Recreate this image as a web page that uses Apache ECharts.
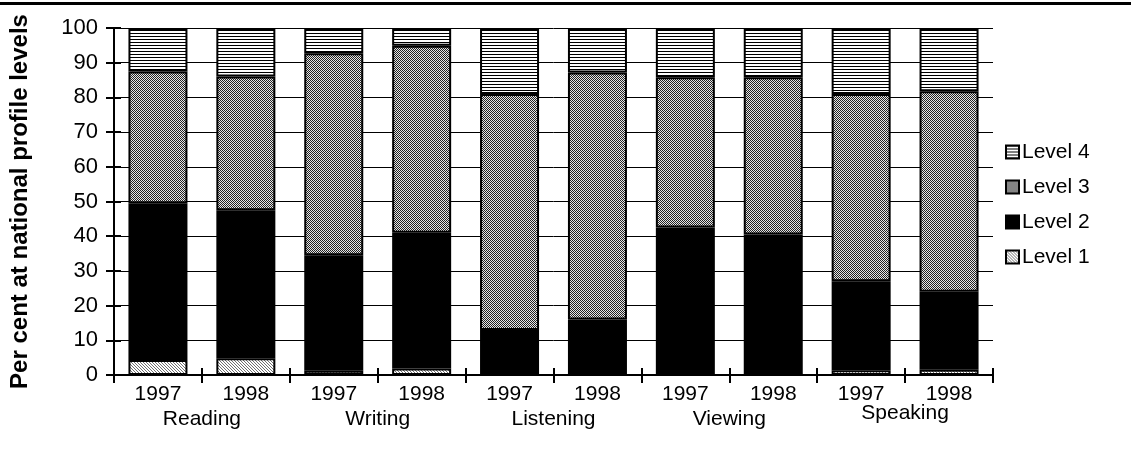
<!DOCTYPE html>
<html>
<head>
<meta charset="utf-8">
<script src="https://cdn.jsdelivr.net/npm/echarts@6/dist/echarts.min.js"></script>
<style>
html,body{margin:0;padding:0;background:#fff;}
#chart{width:1131px;height:466px;}
</style>
</head>
<body>
<div id="chart"></div>
<script>
// ---- data ----
const years = ['1997','1998','1997','1998','1997','1998','1997','1998','1997','1998'];
const subjects = ['Reading','Writing','Listening','Viewing','Speaking'];
const yTicks = [0,10,20,30,40,50,60,70,80,90,100];
const level1 = [4.3, 4.8, 1.2, 1.9, 0, 0, 0, 0.3, 1.4, 1.5];
const level2 = [45.2, 42.7, 33.3, 39.1, 13, 16, 42.5, 40.2, 25.6, 22.5];
const level3 = [38, 38.5, 58.2, 53.9, 68, 71.2, 43.3, 45.3, 54, 57.8];
const level4 = [12.5, 14, 7.3, 5.1, 19, 12.8, 14.2, 14.2, 19, 18.2];
const levelNames = ['Level 1','Level 2','Level 3','Level 4'];

// ---- fill patterns ----
function makePattern(w, h, draw) {
  const c = document.createElement('canvas');
  c.width = w; c.height = h;
  const g = c.getContext('2d');
  g.fillStyle = '#fff'; g.fillRect(0, 0, w, h);
  draw(g);
  return { image: c, repeat: 'repeat' };
}
const patHoriz = makePattern(1, 3, g => { g.fillStyle = '#000'; g.fillRect(0, 0, 1, 1); });
const patDots = makePattern(2, 2, g => {
  g.fillStyle = '#222'; g.fillRect(0, 0, 1, 1); g.fillRect(1, 1, 1, 1);
  g.fillStyle = '#e6e6e6'; g.fillRect(1, 0, 1, 1); g.fillRect(0, 1, 1, 1);
});
const patDiag = makePattern(3, 3, g => {
  g.fillStyle = '#707070';
  g.fillRect(0, 0, 1, 1); g.fillRect(1, 1, 1, 1); g.fillRect(2, 2, 1, 1);
});

const fills = [patDiag, '#000', patDots, patHoriz];
const values = [level1, level2, level3, level4];
const FONT = 'Liberation Sans, Arial, sans-serif';

const chart = echarts.init(document.getElementById('chart'), null, { renderer: 'canvas' });

const series = levelNames.map((name, i) => ({
  name: name,
  type: 'bar',
  stack: 'total',
  xAxisIndex: 0,
  yAxisIndex: 0,
  barWidth: 59,
  data: values[i],
  itemStyle: { color: fills[i], borderColor: '#000', borderWidth: 2 },
  emphasis: { disabled: true },
  animation: false
}));

chart.setOption({
  animation: false,
  backgroundColor: '#fff',
  grid: { left: 112, right: 138, top: 28, bottom: 91, containLabel: false },
  legend: {
    orient: 'vertical',
    left: 1000,
    top: 136,
    data: ['Level 4','Level 3','Level 2','Level 1'],
    icon: 'rect',
    itemWidth: 13,
    itemHeight: 13,
    itemGap: 13,
    textStyle: { fontFamily: FONT, fontSize: 21, color: '#000', lineHeight: 22, padding: [0,0,0,-2] },
    selectedMode: false
  },
  xAxis: [
    {
      type: 'category', data: years, gridIndex: 0, position: 'bottom',
      axisLine: { show: true, lineStyle: { color: '#000', width: 2 } },
      axisTick: { show: true, length: 8, lineStyle: { color: '#000', width: 2 } },
      axisLabel: { fontFamily: FONT, fontSize: 21, color: '#000', margin: 9, interval: 0 },
      splitLine: { show: false }
    },
    {
      type: 'category', data: years, gridIndex: 0, position: 'bottom',
      axisLine: { show: false },
      axisTick: { show: true, inside: true, length: 7, lineStyle: { color: '#000', width: 2 } },
      axisLabel: { show: false },
      splitLine: { show: false }
    },
    {
      type: 'category', gridIndex: 0, position: 'bottom',
      data: subjects.map(s => s === 'Speaking'
        ? { value: s, textStyle: { lineHeight: 10 } }
        : s),
      axisLine: { show: false },
      axisTick: { show: false },
      axisLabel: { fontFamily: FONT, fontSize: 21, color: '#000', margin: 33, interval: 0, lineHeight: 22 },
      splitLine: { show: false }
    }
  ],
  yAxis: [
    {
      type: 'value', min: yTicks[0], max: yTicks[yTicks.length - 1], interval: 10,
      name: 'Per cent at national profile levels',
      nameLocation: 'middle',
      nameGap: 82,
      nameTextStyle: { fontFamily: FONT, fontSize: 24, fontWeight: 'bold', color: '#000' },
      axisLine: { show: true, lineStyle: { color: '#000', width: 2 } },
      axisTick: { show: true, length: 8, lineStyle: { color: '#000', width: 2 } },
      axisLabel: { fontFamily: FONT, fontSize: 22, color: '#000', margin: 16 },
      splitLine: { show: true, lineStyle: { color: '#000', width: 1 } }
    },
    {
      type: 'value', min: yTicks[0], max: yTicks[yTicks.length - 1], interval: 10, position: 'left',
      axisLine: { show: false },
      axisTick: { show: true, inside: true, length: 7, lineStyle: { color: '#000', width: 2 } },
      axisLabel: { show: false },
      splitLine: { show: false }
    }
  ],
  graphic: [
    { type: 'rect', left: 0, top: 2, shape: { width: 1131, height: 3 }, style: { fill: '#000' }, z: 100 }
  ],
  series: series
});
</script>
</body>
</html>
